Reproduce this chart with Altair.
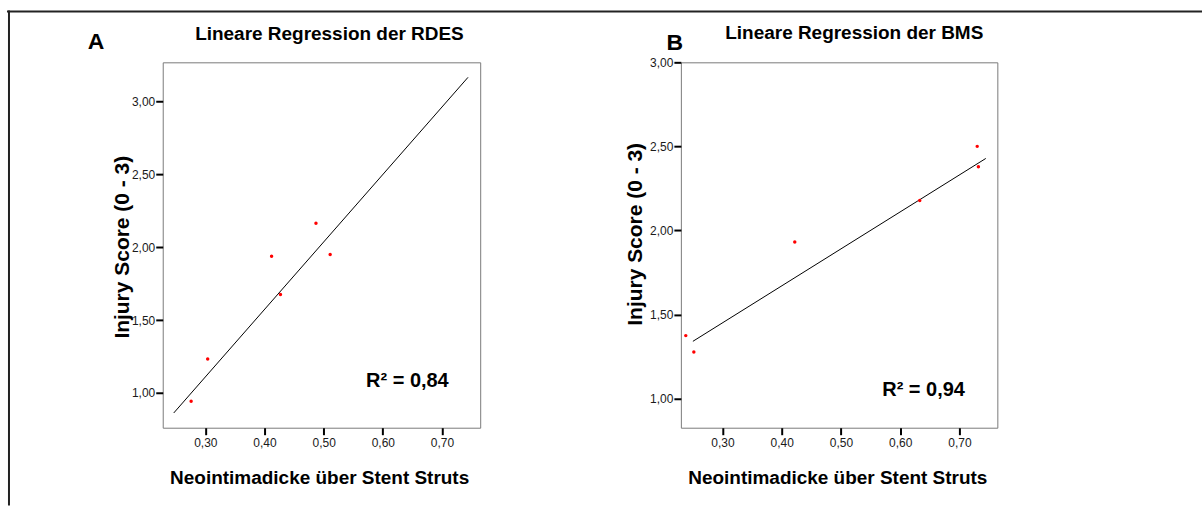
import altair as alt
import pandas as pd

# Panel A: RDES (drug-eluting stents)
rdes_x = [0.276, 0.304, 0.412, 0.427, 0.487, 0.511]
rdes_y = [0.943, 1.233, 1.938, 1.675, 2.164, 1.949]
rdes_fit_x = [0.2466, 0.744]
rdes_fit_y = [0.863, 3.164]

# Panel B: BMS (bare-metal stents)
bms_x = [0.238, 0.2516, 0.422, 0.633, 0.730, 0.732]
bms_y = [1.374, 1.277, 1.931, 2.178, 2.500, 2.379]
bms_fit_x = [0.250, 0.7445]
bms_fit_y = [1.340, 2.428]

panel_letters = ["A", "B"]
panel_titles = ["Lineare Regression der RDES", "Lineare Regression der BMS"]
r2_labels = ["R² = 0,84", "R² = 0,94"]
x_ticks = [0.3, 0.4, 0.5, 0.6, 0.7]
y_ticks = [1.0, 1.5, 2.0, 2.5, 3.0]
x_title = "Neointimadicke über Stent Struts"
y_title = "Injury Score (0 - 3)"

FONT = "Liberation Sans"
COMMA = "replace(format(datum.value, '.2f'), '.', ',')"


def label(text, pos, size, align="left"):
    return alt.Chart(pd.DataFrame({"t": [text]})).mark_text(
        align=align, baseline="alphabetic", font=FONT, fontSize=size,
        fontWeight="bold", color="#000"
    ).encode(x=alt.value(pos[0]), y=alt.value(pos[1]), text="t:N")


def panel(px, py, fx, fy, letter, title, r2, xdom, ydom, width, height,
          title_pos, ytitle_x, ytitle_y, r2_pos, letter_pos, extra=()):
    pts = pd.DataFrame({"x": px, "y": py})
    fit = pd.DataFrame({"x": fx, "y": fy})
    xs = alt.Scale(domain=xdom, nice=False, zero=False)
    ys = alt.Scale(domain=ydom, nice=False, zero=False)
    common = dict(domain=False, grid=False, tickSize=7, tickWidth=2,
                  tickColor="#000", labelFont=FONT, labelFontSize=12,
                  labelColor="#1a1a1a", titleFont=FONT, titleFontWeight="bold",
                  titleColor="#000", titleBaseline="alphabetic",
                  titleAlign="center", labelExpr=COMMA)
    xax = alt.Axis(values=x_ticks, title=x_title, titleFontSize=19,
                   labelPadding=3, titleX=156.7, titleY=56, **common)
    yax = alt.Axis(values=y_ticks, title=y_title, titleFontSize=21,
                   labelPadding=1, titleAngle=270, titleX=ytitle_x,
                   titleY=ytitle_y, **common)

    line = alt.Chart(fit).mark_line(color="#000", strokeWidth=1).encode(
        x=alt.X("x:Q", scale=xs, axis=xax),
        y=alt.Y("y:Q", scale=ys, axis=yax),
    )
    dots = alt.Chart(pts).mark_circle(color="#ff0000", opacity=1, size=12).encode(
        x=alt.X("x:Q", scale=xs), y=alt.Y("y:Q", scale=ys)
    )
    return alt.layer(
        line, dots,
        label(r2, r2_pos, 20),
        label(letter, letter_pos, 23),
        label(title, title_pos, 19, align="center"),
        *extra,
    ).properties(width=width, height=height)


# Frame lines along the top and left of the figure
one = pd.DataFrame({"k": [0]})
top_border = alt.Chart(one).mark_rule(color="#222", strokeWidth=2).encode(
    x=alt.value(-156), x2=alt.value(1041), y=alt.value(-51)
)
left_border = alt.Chart(one).mark_rule(color="#222", strokeWidth=2).encode(
    x=alt.value(-154), y=alt.value(-52), y2=alt.value(444)
)

chart_a = panel(rdes_x, rdes_y, rdes_fit_x, rdes_fit_y, panel_letters[0],
                panel_titles[0], r2_labels[0], [0.228, 0.7646], [0.762, 3.267],
                318, 366, (167, -22), -34.7, 184.7, (203.7, 325.7), (-75, -13),
                extra=(top_border, left_border))
chart_b = panel(bms_x, bms_y, bms_fit_x, bms_fit_y, panel_letters[1],
                panel_titles[1], r2_labels[1], [0.2297, 0.764], [0.826, 3.0],
                317, 366, (173.7, -23.7), -39, 171.8, (201.7, 334.7), (-14.3, -12.7))

chart = alt.hconcat(chart_a, chart_b, spacing=201, bounds="flush").properties(
    padding={"left": 5, "top": 8, "right": 0, "bottom": 0},
    background="#ffffff",
).configure_view(stroke="#7a7a7a", strokeWidth=1)

chart.save("out.html", embed_options={"renderer": "svg", "actions": False})
